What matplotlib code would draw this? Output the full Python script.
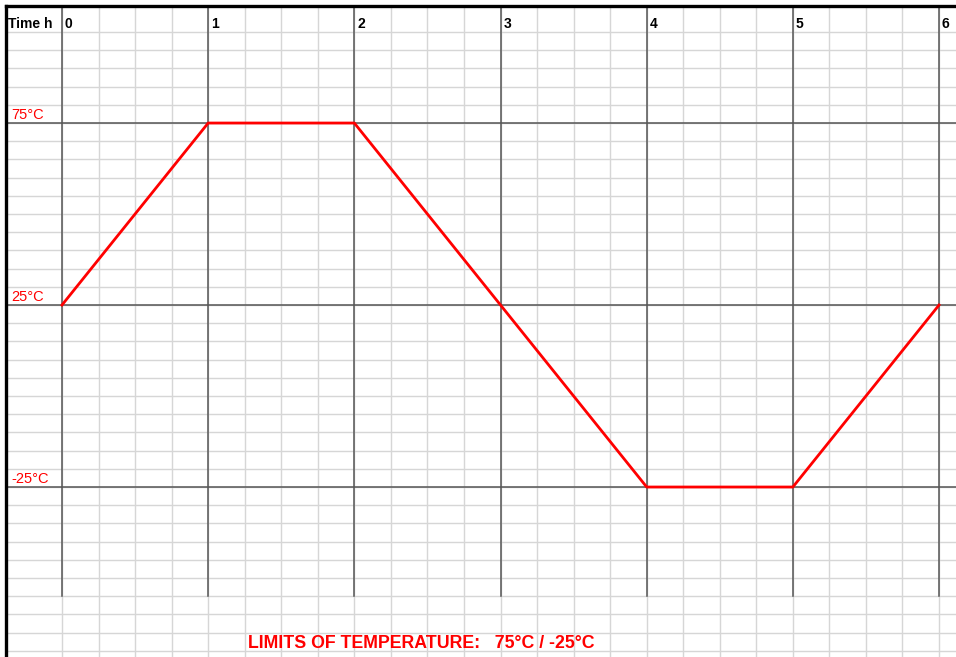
import matplotlib

matplotlib.use("Agg")

import matplotlib.pyplot as plt
import numpy as np

# test cycle: time in hours, chamber temperature in degC
time_h = [0, 1, 2, 4, 5, 6]
temp_c = [25, 75, 75, -25, -25, 25]

hour_ticks = [0, 1, 2, 3, 4, 5, 6]
temp_marks = [75, 25, -25]
temp_labels = ["75°C", "25°C", "-25°C"]
title = "LIMITS OF TEMPERATURE:   75°C / -25°C"

RED = "#ff0000"
DARK = "#555555"
LIGHT = "#d6d6d6"

# page extent in data units (sheet-like grid fills the whole figure)
X_MIN, X_MAX = -0.424, 6.116
Y_MIN, Y_MAX = -71.7, 108.8
BORDER_X, BORDER_Y = -0.383, 107.1
HEADER_Y = 100
MAJOR_BOTTOM = -55

fig = plt.figure(figsize=(9.56, 6.57), dpi=100)
ax = fig.add_axes([0, 0, 1, 1])
ax.set_xlim(X_MIN, X_MAX)
ax.set_ylim(Y_MIN, Y_MAX)
ax.axis("off")

# light grid: quarter hours and 5 degC rows
for x in np.arange(0, 6.01, 0.25):
    ax.plot([x, x], [Y_MIN, BORDER_Y], color=LIGHT, lw=1.0, zorder=1)
for y in np.arange(-70, HEADER_Y + 1, 5):
    ax.plot([BORDER_X, X_MAX], [y, y], color=LIGHT, lw=1.0, zorder=1)

# darker hour and temperature lines
for h in hour_ticks:
    ax.plot([h, h], [MAJOR_BOTTOM, BORDER_Y], color=DARK, lw=1.1, zorder=2)
for t in temp_marks:
    ax.plot([BORDER_X, X_MAX], [t, t], color=DARK, lw=1.1, zorder=2)

# sheet border (left and top)
ax.plot([BORDER_X, BORDER_X], [Y_MIN, BORDER_Y], color="black", lw=2.4, zorder=3,
        solid_capstyle="projecting")
ax.plot([BORDER_X, X_MAX], [BORDER_Y, BORDER_Y], color="black", lw=2.4, zorder=3,
        solid_capstyle="projecting")

ax.plot(time_h, temp_c, color=RED, lw=2.0, zorder=4)

font = ["Liberation Sans", "DejaVu Sans"]
header_y = 102.3
ax.text(BORDER_X + 0.013, header_y, "Time h", fontsize=10, fontweight="bold",
        family=font, va="center", ha="left")
for h in hour_ticks:
    ax.text(h + 0.02, header_y, str(h), fontsize=10, fontweight="bold",
            family=font, va="center", ha="left")
for t, lab in zip(temp_marks, temp_labels):
    ax.text(BORDER_X + 0.034, t + 1.0, lab, fontsize=10.5, color=RED,
            family=font, va="baseline", ha="left")

ax.text(2.46, -68, title, fontsize=12.8, fontweight="bold", color=RED,
        family=font, va="center", ha="center")

fig.savefig("out.png")
